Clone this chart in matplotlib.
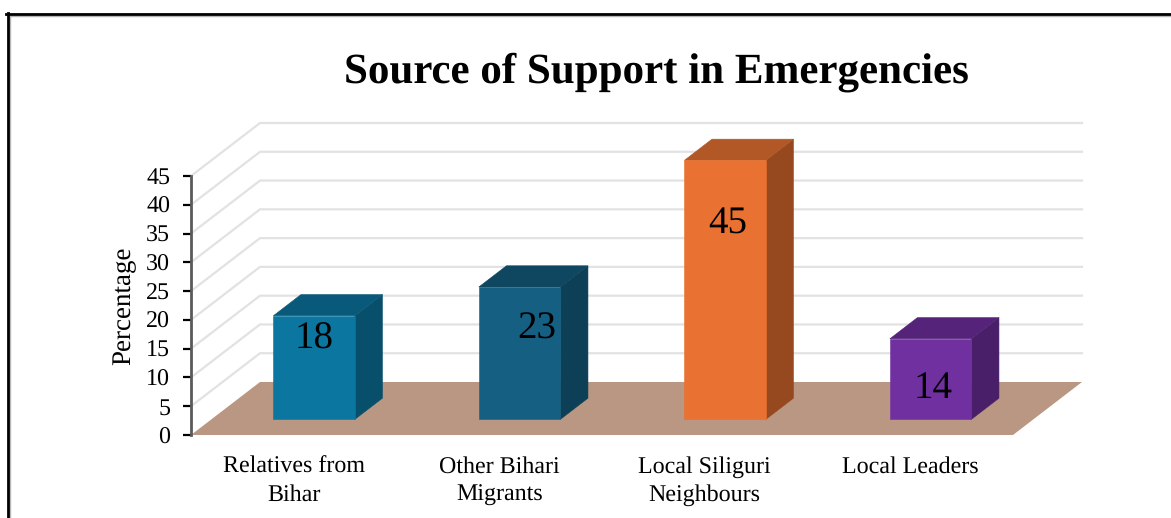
import matplotlib
matplotlib.use("Agg")
import matplotlib.pyplot as plt
from matplotlib.patches import Polygon

categories = ["Relatives from\nBihar", "Other Bihari\nMigrants", "Local Siliguri\nNeighbours", "Local Leaders"]
values = [18, 23, 45, 14]
front_colors = ["#0B76A0", "#156082", "#E97132", "#7030A0"]
top_colors = ["#095A7A", "#0F4761", "#B25826", "#55247A"]
side_colors = ["#084F6C", "#0D3F56", "#96481E", "#481F68"]
y_ticks = list(range(0, 50, 5))
label_offsets_px = [(0, -23), (17, -42), (3, -64), (2, -50)]

W, H = 1171, 518
plt.rcParams["font.family"] = ["Liberation Serif", "DejaVu Serif"]
plt.rcParams["text.hinting"] = "no_hinting"
plt.rcParams["text.hinting_factor"] = 1
fig = plt.figure(figsize=(W / 100, H / 100), dpi=100)

# Front plane of the 3-D box, given in pixels from the top-left corner
left, right, top, bottom = 191, 1013, 176, 435
ax = fig.add_axes([left / W, 1 - bottom / H, (right - left) / W, (bottom - top) / H])
ax.set_xlim(-0.5, 3.5)
ax.set_ylim(0, 45)
ax.patch.set_visible(False)

px_x = (right - left) / 4
px_y = (bottom - top) / 45
depth_x = 69 / px_x
depth_y = 53 / px_y


def skew(x, y, d):
    """Data position of point (x, y) pushed back by depth fraction d."""
    return (x + depth_x * d, y + depth_y * d)


# Floor and back-wall gridlines
floor = [skew(-0.5, 0, 0), skew(3.5, 0, 0), skew(3.5, 0, 1), skew(-0.5, 0, 1)]
ax.add_patch(Polygon(floor, closed=True, fc="#BA9782", ec="none", zorder=2, clip_on=False))
for t in y_ticks[1:]:
    x0, y0 = skew(-0.5, t, 0)
    x1, y1 = skew(-0.5, t, 1)
    x2, y2 = skew(3.5, t, 1)
    ax.plot([x0, x1, x2], [y0, y1, y2], color="#E2E2E2", lw=1.6, zorder=1, clip_on=False,
            solid_joinstyle="miter")

# Extruded bars
half = 81.5 / px_x / 2
d0, d1 = 0.295, 0.695
for i, v in enumerate(values):
    xl, xr = i - half, i + half
    front = [skew(xl, 0, d0), skew(xr, 0, d0), skew(xr, v, d0), skew(xl, v, d0)]
    side = [skew(xr, 0, d0), skew(xr, 0, d1), skew(xr, v, d1), skew(xr, v, d0)]
    cap = [skew(xl, v, d0), skew(xr, v, d0), skew(xr, v, d1), skew(xl, v, d1)]
    ax.add_patch(Polygon(side, closed=True, fc=side_colors[i], ec=side_colors[i], lw=0.4, zorder=3, clip_on=False))
    ax.add_patch(Polygon(cap, closed=True, fc=top_colors[i], ec=top_colors[i], lw=0.4, zorder=3, clip_on=False))
    ax.add_patch(Polygon(front, closed=True, fc=front_colors[i], ec=front_colors[i], lw=0.4, zorder=4, clip_on=False))
    ox, oy = label_offsets_px[i]
    ax.annotate(str(v), xy=skew(i, v, d0), xytext=(ox * 0.72, oy * 0.72), textcoords="offset points",
                ha="center", va="center", fontsize=28, color="black", zorder=5, annotation_clip=False)

# Axes furniture
for name in ("top", "right", "bottom"):
    ax.spines[name].set_visible(False)
ax.spines["left"].set_color("#5A5A5A")
ax.spines["left"].set_linewidth(2)
ax.set_yticks(y_ticks)
ax.set_xticks(range(len(categories)))
ax.set_xticklabels(categories, fontsize=17.3, linespacing=1.4)
ax.tick_params(axis="x", length=0, pad=15)
ax.tick_params(axis="y", length=6, width=1.6, color="black", labelsize=17.3, pad=9)
ax.set_ylabel("Percentage", fontsize=19.6)
ax.yaxis.set_label_coords((136 - left) / (right - left), 0.5)

fig.text(656 / W, 1 - 72 / H, "Source of Support in Emergencies", fontsize=30.75, fontweight="bold",
         ha="center", va="center")

# Outer frame with its faint inner shadow
fig.add_artist(plt.Line2D([9.5 / W, 9.5 / W], [0, 1 - 15 / H], color="#B5B5B5", lw=1))
fig.add_artist(plt.Line2D([9 / W, 1], [1 - 16 / H, 1 - 16 / H], color="#B5B5B5", lw=1))
fig.add_artist(plt.Line2D([7.8 / W, 7.8 / W], [0, 1 - 13 / H], color="black", lw=2))
fig.add_artist(plt.Line2D([6.4 / W, 1], [1 - 14.2 / H, 1 - 14.2 / H], color="black", lw=2))

fig.savefig("out.png", dpi=100)
